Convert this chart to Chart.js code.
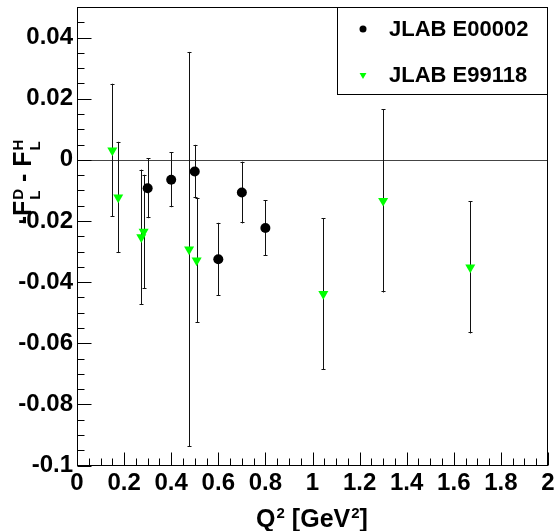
<!DOCTYPE html>
<html>
<head>
<meta charset="utf-8">
<script src="https://cdn.jsdelivr.net/npm/chart.js@4/dist/chart.umd.min.js"></script>
<style>
  html, body { margin: 0; padding: 0; background: #fff; }
  #wrap { width: 556px; height: 531px; }
</style>
</head>
<body>
<div id="wrap"><canvas id="c" width="556" height="531"></canvas></div>
<script>
// JLAB E00002 (black circles)
const q2E00002 = [0.30, 0.40, 0.50, 0.60, 0.70, 0.80];
const diffE00002 = [-0.0093, -0.0065, -0.0038, -0.0325, -0.0107, -0.0223];
const errE00002 = [0.0098, 0.0090, 0.0087, 0.0119, 0.0101, 0.0091];

// JLAB E99118 (green triangles)
const q2E99118 = [0.150, 0.175, 0.273, 0.283, 0.476, 0.508, 1.046, 1.300, 1.670];
const diffE99118 = [0.0031, -0.0123, -0.0253, -0.0235, -0.0293, -0.0329, -0.0439, -0.0134, -0.0352];
const errE99118 = [0.0218, 0.0182, 0.0221, 0.0186, 0.0646, 0.0204, 0.0248, 0.0300, 0.0216];

const seriesLabels = ['JLAB E00002', 'JLAB E99118'];
const xRange = [0, 2];
const yRange = [-0.1, 0.05];

const FONT = "'Liberation Sans', Arial, sans-serif";

function toPoints(xs, ys) {
    return xs.map((q, i) => ({ x: q, y: ys[i] }));
}

// error bars, zero line, frame, inward ticks, legend and axis titles
const decorations = {
    id: 'decorations',
    beforeDatasetsDraw(chart) {
        const { ctx, chartArea: a, scales: { x, y } } = chart;
        ctx.save();
        // horizontal line at zero
        const y0 = Math.round(y.getPixelForValue(0)) + 0.5;
        ctx.strokeStyle = '#444';
        ctx.lineWidth = 1;
        ctx.beginPath();
        ctx.moveTo(a.left, y0);
        ctx.lineTo(a.right, y0);
        ctx.stroke();

        // error bars
        const bars = [[q2E00002, diffE00002, errE00002], [q2E99118, diffE99118, errE99118]];
        ctx.strokeStyle = '#111';
        bars.forEach(([xs, vs, es]) => {
            xs.forEach((q, i) => {
                const px = Math.round(x.getPixelForValue(q)) + 0.5;
                const top = y.getPixelForValue(vs[i] + es[i]);
                const bot = y.getPixelForValue(vs[i] - es[i]);
                ctx.beginPath();
                ctx.moveTo(px, top);
                ctx.lineTo(px, bot);
                ctx.moveTo(px - 2, Math.round(top) + 0.5);
                ctx.lineTo(px + 2, Math.round(top) + 0.5);
                ctx.moveTo(px - 2, Math.round(bot) - 0.5);
                ctx.lineTo(px + 2, Math.round(bot) - 0.5);
                ctx.stroke();
            });
        });
        ctx.restore();
    },
    afterDraw(chart) {
        const { ctx, chartArea: a, scales: { x, y } } = chart;
        ctx.save();
        ctx.strokeStyle = '#000';
        ctx.lineWidth = 1;
        const L = Math.round(a.left) + 0.5, R = Math.round(a.right) - 0.5;
        const T = Math.round(a.top) + 0.5, B = Math.round(a.bottom) - 0.5;
        ctx.strokeRect(L, T, R - L, B - T);

        // y ticks (inside)
        ctx.beginPath();
        for (let k = 0; k <= 30; k++) {
            const v = yRange[0] + k * 0.005;
            const py = Math.round(y.getPixelForValue(v)) + 0.5;
            const len = (k % 4 === 0) ? 14 : 7;
            ctx.moveTo(L, py);
            ctx.lineTo(L + len, py);
        }
        // x ticks (inside)
        for (let k = 0; k <= 40; k++) {
            const v = xRange[0] + k * 0.05;
            const px = Math.round(x.getPixelForValue(v)) + 0.5;
            const len = (k % 4 === 0) ? 13 : 7;
            ctx.moveTo(px, B);
            ctx.lineTo(px, B - len);
        }
        ctx.stroke();

        // legend box
        ctx.strokeRect(337.5, T, R - 337.5, 94.5 - T);
        const ds = chart.data.datasets;
        const rows = [29, 75];
        ds.forEach((d, i) => {
            ctx.fillStyle = d.backgroundColor;
            ctx.strokeStyle = d.backgroundColor;
            Chart.helpers.drawPoint(ctx, {
                pointStyle: d.pointStyle,
                rotation: d.pointRotation || 0,
                radius: i === 0 ? 3.5 : 4,
                borderWidth: 0
            }, 363, rows[i]);
            ctx.fillStyle = '#000';
            ctx.font = 'bold 22px ' + FONT;
            ctx.textBaseline = 'middle';
            ctx.textAlign = 'left';
            ctx.fillText(d.label, 389, rows[i] + 1);
        });

        // axis titles
        drawRich(ctx, [
            ['Q', 'm'], ['2', 'sup'], [' [GeV', 'm'], ['2', 'sup'], [']', 'm']
        ], 312, 527, false);
        drawRich(ctx, [
            ['-F', 'm'], [['D', 'L'], 'stack'], [' - F', 'm'], [['H', 'L'], 'stack']
        ], 31, 182, true);
        ctx.restore();
    }
};

// draw text with superscripts/subscripts, centred on (cx, cy) along the reading direction
function drawRich(ctx, parts, cx, cy, rotated) {
    const main = 'bold 25px ' + FONT;
    const small = 'bold 15px ' + FONT;
    const widths = parts.map(([t, kind]) => {
        if (kind === 'm') { ctx.font = main; return ctx.measureText(t).width; }
        ctx.font = small;
        if (kind === 'sup') return ctx.measureText(t).width + 1;
        return Math.max(ctx.measureText(t[0]).width, ctx.measureText(t[1]).width) + 1;
    });
    const total = widths.reduce((s, w) => s + w, 0);
    ctx.save();
    ctx.fillStyle = '#000';
    ctx.textBaseline = 'alphabetic';
    ctx.textAlign = 'left';
    ctx.translate(cx, cy);
    if (rotated) ctx.rotate(-Math.PI / 2);
    let pos = -total / 2;
    parts.forEach(([t, kind], i) => {
        if (kind === 'm') {
            ctx.font = main;
            ctx.fillText(t, pos, 0);
        } else if (kind === 'sup') {
            ctx.font = small;
            ctx.fillText(t, pos + 1, -9);
        } else {
            ctx.font = small;
            ctx.fillText(t[0], pos + 1, -8);
            ctx.fillText(t[1], pos + 1, 9);
        }
        pos += widths[i];
    });
    ctx.restore();
}

const ctx = document.getElementById('c').getContext('2d');
new Chart(ctx, {
    type: 'scatter',
    data: {
        datasets: [
            {
                label: seriesLabels[0],
                data: toPoints(q2E00002, diffE00002),
                pointStyle: 'circle',
                backgroundColor: '#000',
                borderColor: '#000',
                pointRadius: 5,
                pointBorderWidth: 0
            },
            {
                label: seriesLabels[1],
                data: toPoints(q2E99118, diffE99118),
                pointStyle: 'triangle',
                pointRotation: 180,
                backgroundColor: '#00ff00',
                borderColor: '#00ff00',
                pointRadius: 5.8,
                pointBorderWidth: 0
            }
        ]
    },
    options: {
        responsive: false,
        animation: false,
        layout: { padding: { top: 7, right: 8, left: 0, bottom: 0 } },
        plugins: {
            legend: { display: false },
            tooltip: { enabled: false }
        },
        scales: {
            x: {
                type: 'linear',
                min: xRange[0],
                max: xRange[1],
                afterFit(scale) {
                    scale.height = 65.5;
                    scale.paddingLeft = 0;
                    scale.paddingRight = 0;
                },
                grid: { display: false, drawTicks: false },
                border: { display: false },
                ticks: {
                    stepSize: 0.2,
                    autoSkip: false,
                    maxRotation: 0,
                    includeBounds: false,
                    padding: 3,
                    color: '#000',
                    font: { family: FONT, size: 24, weight: 'bold' },
                    callback: v => String(Number(v.toFixed(1)))
                }
            },
            y: {
                type: 'linear',
                min: yRange[0],
                max: yRange[1],
                afterFit(scale) {
                    scale.width = 77;
                    scale.paddingTop = 0;
                    scale.paddingBottom = 0;
                },
                grid: { display: false, drawTicks: false },
                border: { display: false },
                ticks: {
                    stepSize: 0.02,
                    autoSkip: false,
                    includeBounds: false,
                    padding: 4,
                    color: '#000',
                    font: { family: FONT, size: 24, weight: 'bold' },
                    callback: v => String(Number(v.toFixed(2)))
                }
            }
        }
    },
    plugins: [decorations]
});
</script>
</body>
</html>
